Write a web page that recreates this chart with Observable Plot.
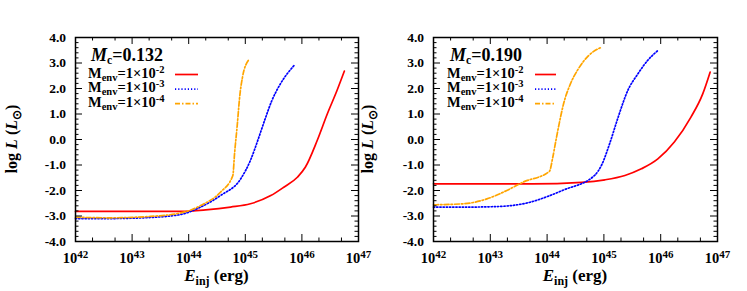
<!DOCTYPE html>
<html><head><meta charset="utf-8">
<script src="https://cdn.jsdelivr.net/npm/d3@7"></script>
<script src="https://cdn.jsdelivr.net/npm/@observablehq/plot@0.6"></script>
<style>
body{margin:0;background:#fff;}
#wrap{position:relative;width:747px;height:291px;overflow:hidden;font-family:"Liberation Serif",serif;}
#wrap svg{position:absolute;top:0;}
</style></head><body><div id="wrap"></div>
<script>
// ---- data (log10 E_inj [erg], log10 L [Lsun]) ----
const envExponents = ["-2", "-3", "-4"];
const seriesColors = ["#ff0000", "#0000ff", "#ffa500"];
const seriesDash = [null, "1.2,2", "5,2,1.5,2"];
const xTickValues = [42, 43, 44, 45, 46, 47];
const yTickValues = [-4, -3, -2, -1, 0, 1, 2, 3, 4];

// Panel A: Mc = 0.132
const mcA = "0.132";
const a_env2 = [[42,-2.82],[43,-2.82],[43.86,-2.82],[44.3,-2.76],[44.74,-2.65],[45.09,-2.52],[45.45,-2.2],[45.68,-1.87],[45.92,-1.48],[46.06,-1.09],[46.27,-0.04],[46.45,1.01],[46.62,1.92],[46.75,2.68]];
const a_env3 = [[42,-3.1],[42.6,-3.1],[43.3,-3.06],[43.86,-2.94],[44.21,-2.65],[44.56,-2.2],[44.92,-1.54],[45.09,-0.82],[45.24,0.09],[45.36,0.87],[45.47,1.53],[45.62,2.18],[45.86,2.9]];
const a_env4 = [[42,-3.05],[42.6,-3.07],[43.3,-3.02],[43.9,-2.86],[44.21,-2.59],[44.56,-2.07],[44.78,-1.41],[44.81,-0.56],[44.86,0.62],[44.9,1.66],[44.95,2.44],[45.06,3.12]];

// Panel B: Mc = 0.190
const mcB = "0.190";
const b_env2 = [[42,-1.74],[43,-1.74],[43.74,-1.74],[44.61,-1.68],[45.02,-1.58],[45.37,-1.41],[45.66,-1.15],[45.95,-0.76],[46.24,-0.1],[46.53,0.87],[46.74,1.79],[46.87,2.64]];
const b_env3 = [[42,-2.65],[42.6,-2.65],[43.12,-2.63],[43.7,-2.46],[44.0,-2.24],[44.29,-1.98],[44.84,-1.4],[44.96,-1.0],[45.1,-0.17],[45.25,0.87],[45.42,1.92],[45.6,2.58],[45.77,3.1],[45.95,3.49]];
const b_env4 = [[42,-2.56],[42.53,-2.52],[42.94,-2.33],[43.29,-2.0],[43.58,-1.67],[44.04,-1.25],[44.1,-0.7],[44.15,-0.1],[44.2,0.48],[44.29,1.4],[44.41,2.18],[44.55,2.77],[44.73,3.29],[44.96,3.62]];

const H = 291, MT = 37, MB = 50;
const FONT = "Liberation Serif";

function panel({mc, series, left, width, marginLeft, marginRight, mcX, legX, lineX0, lineX1, ylabX}) {
  const fw = width - marginLeft - marginRight, fh = H - MT - MB;
  const minorX = [], minorY = [];
  for (let n = 42; n < 47; n++) { minorX.push(n + Math.log10(2), n + Math.log10(5)); }
  for (let v = -4; v < 4; v++) for (let k = 1; k < 5; k++) minorY.push(v + k * 0.2);
  const marks = [];
  series.forEach((s, i) => {
    marks.push(Plot.line(s, {x: d => d[0], y: d => d[1], stroke: seriesColors[i], strokeWidth: 1.7,
      strokeDasharray: seriesDash[i], curve: "monotone-x"}));
  });
  marks.push(
    Plot.ruleX(xTickValues, {insetTop: fh - 7, stroke: "#000"}),
    Plot.ruleX(xTickValues, {insetBottom: fh - 7, stroke: "#000"}),
    Plot.ruleX(minorX, {insetTop: fh - 3.5, stroke: "#000"}),
    Plot.ruleX(minorX, {insetBottom: fh - 3.5, stroke: "#000"}),
    Plot.ruleY(yTickValues, {insetRight: fw - 7, stroke: "#000"}),
    Plot.ruleY(yTickValues, {insetLeft: fw - 7, stroke: "#000"}),
    Plot.ruleY(minorY, {insetRight: fw - 3.5, stroke: "#000"}),
    Plot.ruleY(minorY, {insetLeft: fw - 3.5, stroke: "#000"}),
    Plot.axisX(xTickValues, {tickSize: 0, tickPadding: 11, tickFormat: d => String(d), fontSize: 14.5, label: null}),
    Plot.axisY(yTickValues, {tickSize: 0, tickPadding: 9.5, tickFormat: d => d.toFixed(1), fontSize: 13.5, label: null}),
    Plot.frame({stroke: "#000", strokeWidth: 1.5})
  );
  const svg = Plot.plot({
    width, height: H, marginLeft, marginRight, marginTop: MT, marginBottom: MB,
    x: {type: "linear", domain: [42, 47]},
    y: {domain: [-4, 4]},
    style: {fontFamily: FONT, fontWeight: "bold", background: "transparent", color: "#000", overflow: "visible"},
    marks
  });
  svg.style.left = left + "px";
  const s = d3.select(svg);
  // superscript x tick labels
  s.selectAll('g[aria-label="x-axis tick label"] text').each(function () {
    const e = this.textContent;
    const t = d3.select(this);
    t.text(null);
    t.append("tspan").text("10");
    t.append("tspan").attr("dy", -5).attr("font-size", "11px").text(e);
  });
  const g = s.append("g").attr("font-family", FONT).attr("font-weight", "bold").attr("fill", "#000").attr("text-anchor", "start");
  // y label
  const cy = MT + fh / 2;
  const yl = g.append("text").attr("transform", `translate(${ylabX},${cy}) rotate(-90)`).attr("text-anchor", "middle").attr("font-size", "16px");
  yl.append("tspan").text("log ");
  yl.append("tspan").attr("font-style", "italic").text("L");
  yl.append("tspan").text(" (");
  yl.append("tspan").attr("font-style", "italic").text("L");
  yl.append("tspan").attr("dy", 4).attr("font-size", "12px").text("⊙");
  yl.append("tspan").attr("dy", -4).text(")");
  // x label
  const xl = g.append("text").attr("x", marginLeft + fw / 2).attr("y", 281).attr("text-anchor", "middle").attr("font-size", "17px");
  xl.append("tspan").attr("font-style", "italic").text("E");
  xl.append("tspan").attr("dy", 4).attr("font-size", "12px").text("inj");
  xl.append("tspan").attr("dy", -4).text(" (erg)");
  // legend title
  const mt = g.append("text").attr("x", mcX).attr("y", 61).attr("font-size", "18px");
  mt.append("tspan").attr("font-style", "italic").text("M");
  mt.append("tspan").attr("dy", 3).attr("font-size", "11.5px").text("c");
  mt.append("tspan").attr("dy", -3).text("=" + mc);
  // legend entries
  envExponents.forEach((ex, i) => {
    const yb = 77.5 + i * 14.6;
    const t = g.append("text").attr("x", legX).attr("y", yb).attr("font-size", "14.5px");
    t.append("tspan").text("M");
    t.append("tspan").attr("dy", 3).attr("font-size", "10.5px").text("env");
    t.append("tspan").attr("dy", -3).text("=1×10");
    t.append("tspan").attr("dy", -5).attr("font-size", "10.5px").text(ex);
    s.append("line").attr("x1", lineX0).attr("x2", lineX1).attr("y1", yb - 3).attr("y2", yb - 3)
      .attr("stroke", seriesColors[i]).attr("stroke-width", 1.7).attr("stroke-dasharray", seriesDash[i]);
  });
  document.getElementById("wrap").appendChild(svg);
}

panel({mc: mcA, series: [a_env2, a_env3, a_env4], left: 0, width: 373, marginLeft: 75, marginRight: 15,
  mcX: 91, legX: 88, lineX0: 175, lineX1: 198, ylabX: 17});
panel({mc: mcB, series: [b_env2, b_env3, b_env4], left: 360, width: 387, marginLeft: 73, marginRight: 30,
  mcX: 90, legX: 87, lineX0: 175, lineX1: 196, ylabX: 13});
</script></body></html>
